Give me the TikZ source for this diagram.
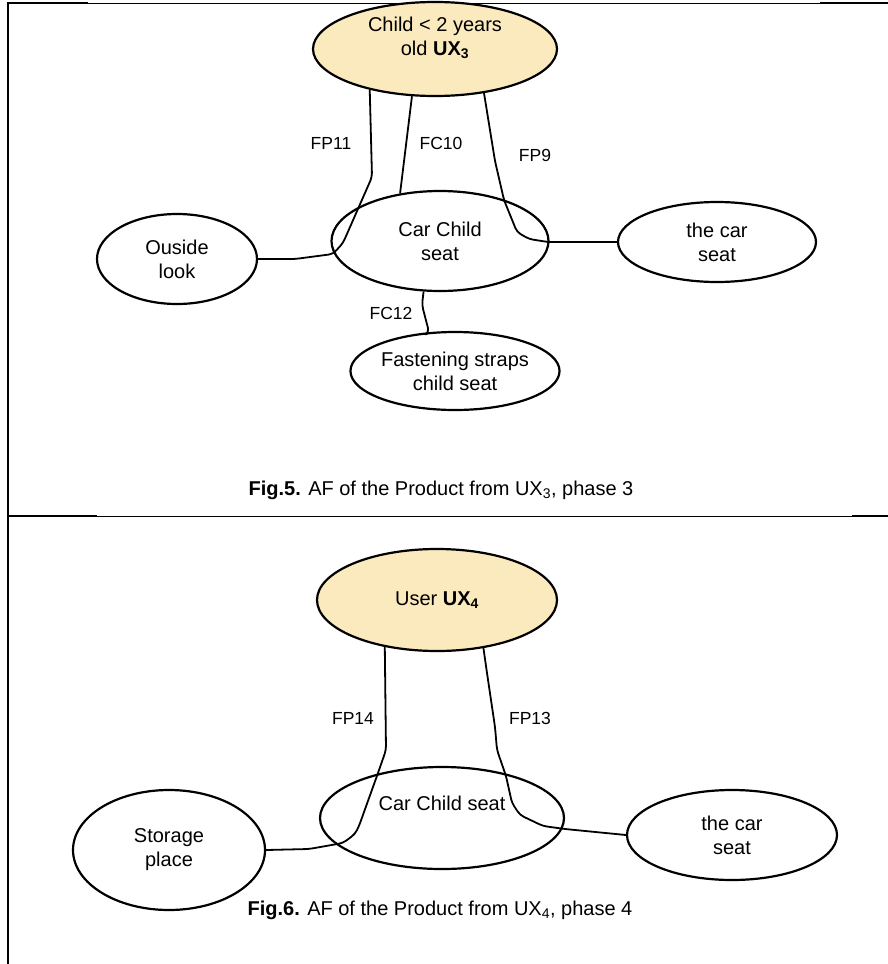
\documentclass[tikz,border=0pt]{standalone}
\usepackage{fontspec}
\setmainfont{Liberation Sans}
\usepackage{tikz}
\usetikzlibrary{
  shapes.geometric,
  positioning
}
\definecolor{userfill}{RGB}{251,234,190}
\tikzset{
  part/.style={
    ellipse,
    draw,
    line width=2.2pt,
    inner sep=0pt,
    align=center,
    font=\fontsize{20}{24}\selectfont,
  },
  actor/.style={
    part,
    fill=userfill,
  },
  link/.style={
    line width=1.8pt,
    rounded corners=4pt,
    line join=round,
  },
  linkname/.style={
    font=\fontsize{17.5}{20}\selectfont,
  },
  figcap/.style={
    font=\fontsize{20}{24}\selectfont,
  },
  border/.style={
    line width=2.6pt,
  },
  thinborder/.style={
    line width=1pt,
  },
}
\newcommand{\ux}[1]{UX\textsubscript{#1}}

\begin{document}
\begin{tikzpicture}[x=1pt,y=-1pt]
		\useasboundingbox (0,0) rectangle (888,964);

		% frame
		\draw[border] (8,964) -- (8,3) -- (88,3);
		\draw[thinborder] (88,3) -- (820,3);
		\draw[border] (820,3) -- (888,3);
		\draw[border] (8,516) -- (97,516);
		\draw[thinborder] (97,516) -- (852,516);
		\draw[border] (852,516) -- (888,516);

		% phase 3
		\node[actor, minimum width=244pt, minimum height=94pt, text height=39pt, text depth=27pt] (ux3) at (435,49) {Child < 2 years\\old \textbf{\ux{3}}};
		\node[part, minimum width=217pt, minimum height=100pt] (seat3) at (440,241) {Car Child\\seat};
		\node[part, minimum width=160pt, minimum height=90pt] (look3) at (177,259) {Ouside\\look};
		\node[part, minimum width=198pt, minimum height=80pt] (carseat3) at (717,242) {the car\\seat};
		\node[part, minimum width=206pt, minimum height=78pt] (straps3) at (455,371) {Fastening straps\\child seat};

		\draw[link] (ux3.212) -- (372,177) -- (343,243) -- (333,254) -- (295,259) -- (look3.east);
		\draw[link] (ux3.244) -- (seat3.130);
		\draw[link] (ux3.318) -- (495,161) -- (504,200) -- (517,232) -- (529,239) -- (548,242) -- (carseat3.west);
		\draw[link] (seat3.252) -- (422,305) -- (429,332) -- (straps3.124);

		\node[linkname] (fp11) at (331,143) {FP11};
		\node[linkname] (fc10) at (441,143) {FC10};
		\node[linkname] (fp9) at (535,155) {FP9};
		\node[linkname] (fc12) at (391,313) {FC12};

		\node[figcap] (cap5) at (441,490) {\textbf{Fig.5.} AF of the Product from \ux{3}, phase 3};

		% phase 4
		\node[actor, minimum width=240pt, minimum height=102pt] (ux4) at (437,600) {User \textbf{\ux{4}}};
		\node[part, minimum width=244pt, minimum height=102pt, text height=15pt, text depth=31pt] (seat4) at (442,818) {Car Child seat};
		\node[part, minimum width=192pt, minimum height=120pt] (store4) at (169,850) {Storage\\place};
		\node[part, minimum width=210pt, minimum height=90pt] (carseat4) at (732,835) {the car\\seat};

		\draw[link] (ux4.222) -- (386,750) -- (378,773) -- (359,826) -- (355,834) -- (343,843) -- (309,849) -- (store4.east);
		\draw[link] (ux4.314) -- (487,673) -- (495,727) -- (497,750) -- (506,776) -- (512,803) -- (520,815) -- (543,826) -- (565,829) -- (carseat4.west);

		\node[linkname] (fp14) at (353,718) {FP14};
		\node[linkname] (fp13) at (530,718) {FP13};

		\node[figcap] (cap6) at (440,910) {\textbf{Fig.6.} AF of the Product from \ux{4}, phase 4};
	\end{tikzpicture}
\end{document}
